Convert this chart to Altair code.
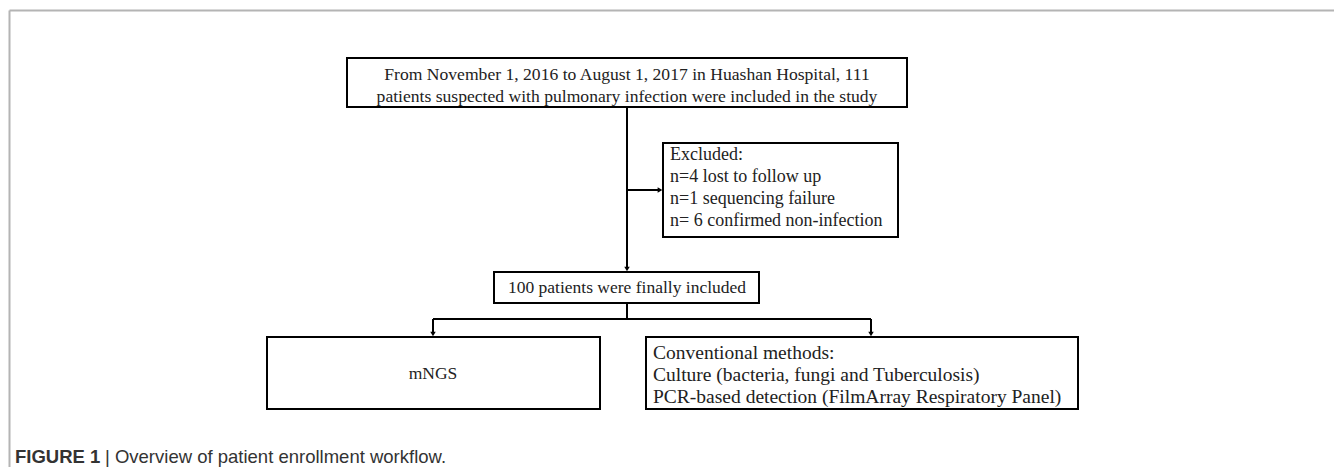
import altair as alt
import pandas as pd

# ---- content ----
box_names = ["start", "excluded", "included", "mngs", "conventional"]
box_x1 = [347, 663, 494, 267, 646]
box_x2 = [907, 898, 759, 600, 1078]
box_y1 = [58, 143, 272, 337, 337]
box_y2 = [107, 237, 303, 409, 409]

text_lines = [
    "From November 1, 2016 to August 1, 2017 in Huashan Hospital, 111",
    "patients suspected with pulmonary infection were included in the study",
    "Excluded:",
    "n=4 lost to follow up",
    "n=1 sequencing failure",
    "n= 6 confirmed non-infection",
    "100 patients were finally included",
    "mNGS",
    "Conventional methods:",
    "Culture (bacteria, fungi and Tuberculosis)",
    "PCR-based detection (FilmArray Respiratory Panel)",
]
text_x = [627, 627, 670, 670, 670, 670, 627, 433, 653, 653, 653]
text_y = [75, 97, 155, 177, 199, 221, 288, 374, 353, 375, 397]
text_align = ["center", "center", "left", "left", "left", "left", "center", "center", "left", "left", "left"]
text_size = [17.6, 17.6, 18, 18, 18, 18, 17.5, 17.5, 19.5, 19.5, 19.5]

seg_x1 = [627, 627, 627, 433, 433, 871]
seg_y1 = [107, 190, 303, 319, 319, 319]
seg_x2 = [627, 659, 627, 871, 433, 871]
seg_y2 = [268, 190, 319, 319, 333, 333]

arrow_x = [660, 627, 433, 871]
arrow_y = [190, 269, 334, 334]
arrow_shape = ["triangle-right", "triangle-down", "triangle-down", "triangle-down"]

frame_x1 = [9.5, 9.5]
frame_y1 = [10.5, 10.5]
frame_x2 = [1334, 9.5]
frame_y2 = [10.5, 467]

caption_bold = "FIGURE 1"
caption_rest = "| Overview of patient enrollment workflow."

# ---- tables ----
boxes = pd.DataFrame({"name": box_names, "x1": box_x1, "x2": box_x2, "y1": box_y1, "y2": box_y2})
texts = pd.DataFrame({"t": text_lines, "x": text_x, "y": text_y, "align": text_align, "fs": text_size})
segs = pd.DataFrame({"x1": seg_x1, "y1": seg_y1, "x2": seg_x2, "y2": seg_y2})
arrows = pd.DataFrame({"x": arrow_x, "y": arrow_y, "shape": arrow_shape})
frame = pd.DataFrame({"x1": frame_x1, "y1": frame_y1, "x2": frame_x2, "y2": frame_y2})
cap_b = pd.DataFrame({"t": [caption_bold], "x": [15], "y": [457]})
cap_r = pd.DataFrame({"t": [caption_rest], "x": [105], "y": [457]})

W, H = 1326, 459
xs = alt.Scale(domain=[8, 8 + W], nice=False, zero=False)
ys = alt.Scale(domain=[8, 8 + H], nice=False, zero=False, reverse=True)

def X(f):
    return alt.X(f, type="quantitative", scale=xs, axis=None)

def Y(f):
    return alt.Y(f, type="quantitative", scale=ys, axis=None)

frame_l = alt.Chart(frame).mark_rule(color="#b4b4b4", strokeWidth=2).encode(
    x=X("x1"), y=Y("y1"), x2="x2", y2="y2")

box_l = alt.Chart(boxes).mark_rect(fill="white", stroke="black", strokeWidth=2).encode(
    x=X("x1"), x2="x2", y=Y("y1"), y2="y2")

seg_l = alt.Chart(segs).mark_rule(color="black", strokeWidth=2).encode(
    x=X("x1"), y=Y("y1"), x2="x2", y2="y2")

arrow_l = alt.Chart(arrows).mark_point(filled=True, color="black", size=30, opacity=1).encode(
    x=X("x"), y=Y("y"),
    shape=alt.Shape("shape:N", scale=None, legend=None))

def txt(align):
    return alt.Chart(texts[texts["align"] == align]).mark_text(
        font="Liberation Serif", color="#222222", align=align, baseline="middle"
    ).encode(x=X("x"), y=Y("y"), text="t:N",
             size=alt.Size("fs:Q", scale=None, legend=None))

cap_b_l = alt.Chart(cap_b).mark_text(
    font="Liberation Sans", fontSize=18.5, fontWeight="bold", color="#333333", align="left", baseline="middle"
).encode(x=X("x"), y=Y("y"), text="t:N")
cap_r_l = alt.Chart(cap_r).mark_text(
    font="Liberation Sans", fontSize=18.5, color="#333333", align="left", baseline="middle"
).encode(x=X("x"), y=Y("y"), text="t:N")

chart = alt.layer(frame_l, box_l, seg_l, arrow_l, txt("center"), txt("left"), cap_b_l, cap_r_l).properties(
    width=W, height=H, padding=0, autosize="none", background="white"
).configure_view(stroke=None)

chart.save("out.html", embed_options={"renderer": "svg", "actions": False})
